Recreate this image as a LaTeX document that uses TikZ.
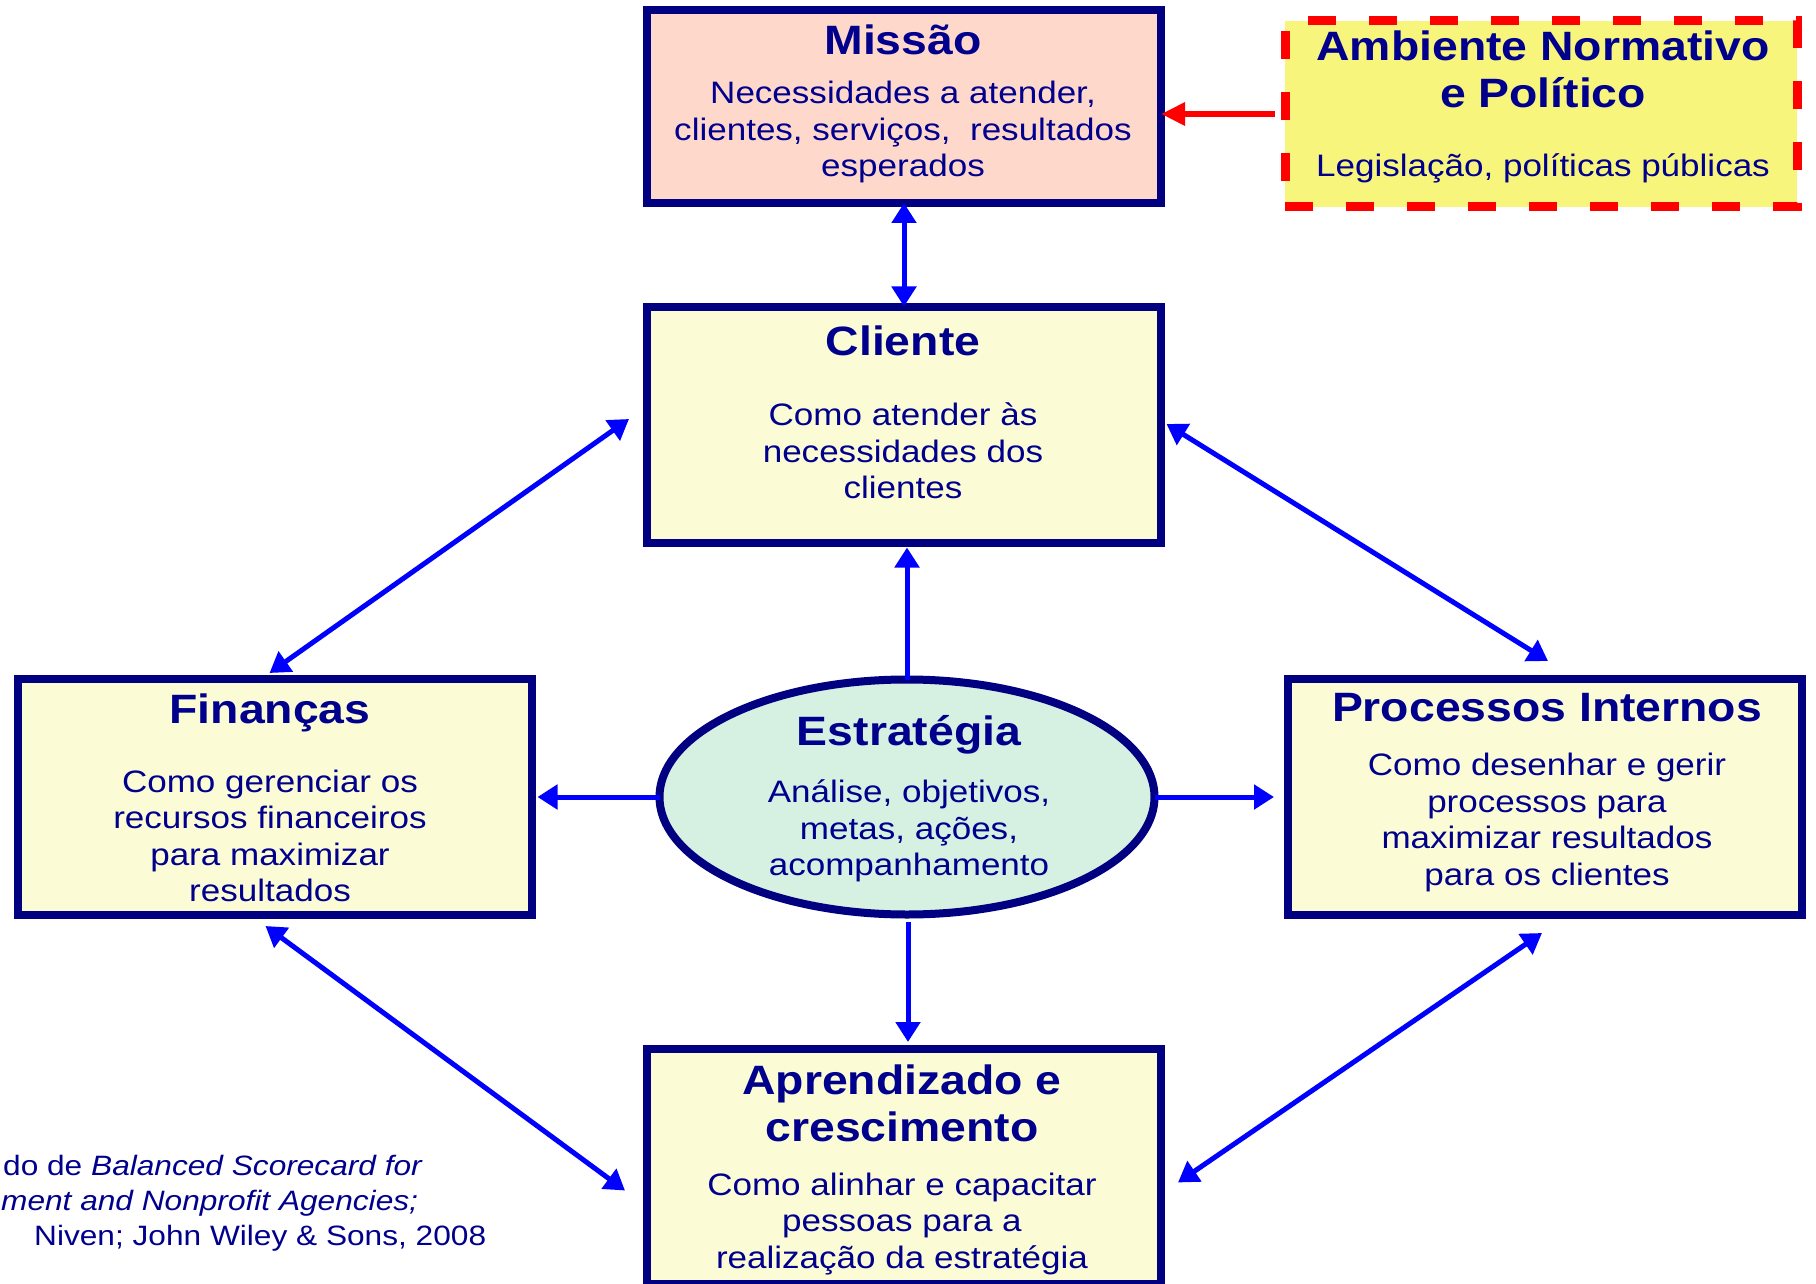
\documentclass[tikz,border=0pt]{standalone}
\usepackage{fontspec}
\setmainfont[FakeStretch=1.13]{Liberation Sans}
\usetikzlibrary{arrows.meta,shapes.geometric,calc}

\definecolor{navyline}{RGB}{0,0,128}
\definecolor{navytext}{RGB}{0,0,140}
\definecolor{arrowblue}{RGB}{0,0,255}
\definecolor{missaofill}{RGB}{255,216,204}
\definecolor{boxfill}{RGB}{251,251,213}
\definecolor{ellfill}{RGB}{214,240,226}
\definecolor{ambfill}{RGB}{248,245,125}

\tikzset{
  panel/.style={draw=navyline, line width=8pt, rectangle, inner sep=0pt, outer sep=0pt,
    minimum width=514pt, fill=boxfill},
  ttl/.style={text=navytext, font=\bfseries\fontsize{41}{47.5}\selectfont, align=center, inner sep=0pt},
  txt/.style={text=navytext, font=\fontsize{31}{36.5}\selectfont, align=center, inner sep=0pt},
  cite/.style={text=navytext, font=\fontsize{28}{34.7}\selectfont, anchor=base west, inner sep=0pt},
  link/.style={draw=arrowblue, line width=5pt, -{Triangle[length=20pt,width=24pt]}},
  duallink/.style={draw=arrowblue, line width=5pt,
    {Triangle[length=20pt,width=24pt]}-{Triangle[length=20pt,width=24pt]}},
}

\begin{document}
\begin{tikzpicture}[x=1pt, y=-1pt]
\useasboundingbox (0,0) rectangle (1816,1284);

% perspective boxes
\node[panel, fill=missaofill, minimum height=193pt] (missao) at (904,106.5) {};
\node[draw=red, line width=9pt, dash pattern=on 28pt off 33pt, fill=ambfill, rectangle,
  inner sep=0pt, outer sep=0pt, minimum width=512pt, minimum height=186pt] (ambiente) at (1541,114) {};
\node[panel, minimum height=236pt] (cliente) at (904,424.5) {};
\node[panel, minimum height=236pt] (financas) at (274.5,797) {};
\node[panel, minimum height=236pt] (processos) at (1545,797) {};
\node[panel, minimum height=235pt] (aprendizado) at (904,1166.5) {};
\node[draw=navyline, line width=8pt, fill=ellfill, ellipse, inner sep=0pt, outer sep=0pt,
  minimum width=495pt, minimum height=235pt] (estrategia) at (907,797) {};

% texts
\node[ttl, anchor=base] (missaoT) at (903,55) {Missão};
\node[txt] (missaoB) at (903,132) {Necessidades a atender,\\clientes, serviços,\ \ resultados\\esperados};

\node[ttl] (ambienteT) at (1543,69.5) {Ambiente Normativo\\e Político};
\node[txt, anchor=base] (ambienteB) at (1543,177) {Legislação, políticas públicas};

\node[ttl, anchor=base] (clienteT) at (903,355) {Cliente};
\node[txt] (clienteB) at (903,451) {Como atender às\\necessidades dos\\clientes};

\node[ttl, anchor=base] (financasT) at (270,723) {Finanças};
\node[txt] (financasB) at (270,836) {Como gerenciar os\\recursos financeiros\\para maximizar\\resultados};

\node[ttl, anchor=base] (estrategiaT) at (909,745) {Estratégia};
\node[txt] (estrategiaB) at (909,831) {Análise, objetivos,\\metas, ações,\\acompanhamento};

\node[ttl, anchor=base] (processosT) at (1547,721) {Processos Internos};
\node[txt] (processosB) at (1547,822.5) {Como desenhar e gerir\\processos para\\maximizar resultados\\para os clientes};

\node[ttl] (aprendizadoT) at (902,1103.5) {Aprendizado e\\crescimento};
\node[txt] (aprendizadoB) at (902,1224) {Como alinhar e capacitar\\pessoas para a\\realização da estratégia};

% source note
\node[cite] (cite1) at (3,1175) {do de \textit{Balanced Scorecard for}};
\node[cite] (cite2) at (1,1210) {\textit{ment and Nonprofit Agencies;}};
\node[cite] (cite3) at (34,1245) {Niven; John Wiley \& Sons, 2008};

% connectors
\draw[duallink] (missao.south) -- (cliente.north);
\draw[draw=red, line width=6pt, -{Triangle[length=24pt,width=22pt]}]
  ($(ambiente.west)+(-10,0)$) -- (ambiente.west -| missao.east);
\draw[duallink] ($(cliente.west)+(-18,-5.5)$) -- ($(financas.north)+(-5,-6)$);
\draw[duallink] ($(cliente.east)+(5.5,-0.5)$) -- ($(processos.north)+(3,-18)$);
\draw[link] (estrategia.north) -- ($(estrategia.north |- cliente.south)+(0,5)$);
\draw[link] (estrategia.west) -- ($(estrategia.west -| financas.east)+(6,0)$);
\draw[link] (estrategia.east) -- ($(estrategia.east -| processos.west)+(-14,0)$);
\draw[link] ($(estrategia.south)+(1,7)$) -- ($(estrategia.south |- aprendizado.north)+(1,-7)$);
\draw[duallink] ($(financas.south)+(-9,11)$) -- ($(aprendizado.west)+(-22,24)$);
\draw[duallink] ($(processos.south)+(-3,18)$) -- ($(aprendizado.east)+(17,16)$);
\end{tikzpicture}
\end{document}
